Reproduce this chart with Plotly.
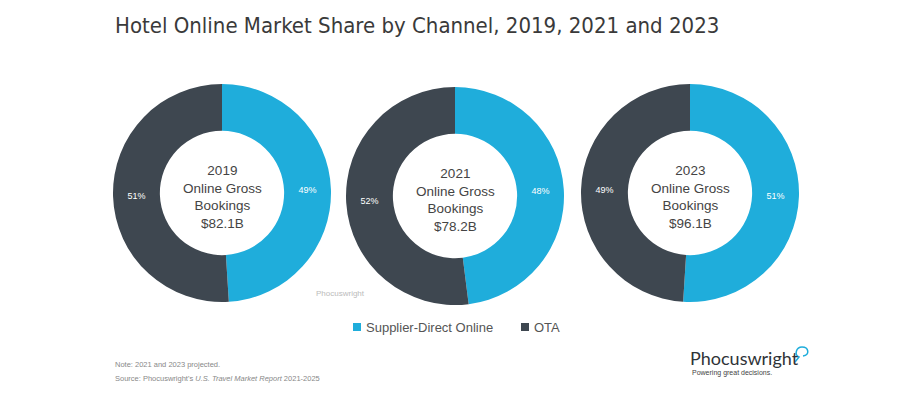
import plotly.graph_objects as go

years = ["2019", "2021", "2023"]
channels = ["Supplier-Direct Online", "OTA"]
supplier_share = [49, 48, 51]
ota_share = [51, 52, 49]
gross_bookings = ["$82.1B", "$78.2B", "$96.1B"]

CYAN = "#1FADDB"
DARK = "#3E4750"
COLORS = [CYAN, DARK]
W, H = 900, 400

centers = [(222, 193), (455, 196), (690, 193)]
R = 109

def px(x):
    return x / W

def py(y):
    return 1 - y / H

fig = go.Figure()
for i, yr in enumerate(years):
    cx, cy = centers[i]
    fig.add_trace(go.Pie(
        labels=channels,
        values=[supplier_share[i], ota_share[i]],
        hole=0.57,
        sort=False,
        direction="clockwise",
        rotation=0,
        marker=dict(colors=COLORS, line=dict(width=0)),
        texttemplate="%{value}%",
        textposition="inside",
        insidetextorientation="horizontal",
        textfont=dict(color="white", size=9, family="Liberation Sans"),
        domain=dict(x=[px(cx - R), px(cx + R)], y=[py(cy + R), py(cy - R)]),
        showlegend=False,
        hoverinfo="label+percent",
    ))
    fig.add_annotation(
        x=px(cx), y=py(cy + 4), xref="paper", yref="paper", xanchor="center", yanchor="middle",
        text=f"{yr}<br>Online Gross<br>Bookings<br>{gross_bookings[i]}",
        showarrow=False, align="center",
        font=dict(size=13.5, color="#444", family="Liberation Sans"),
    )

# custom legend
legend_pos = [353, 521]
for name, col, lx in zip(channels, COLORS, legend_pos):
    fig.add_shape(type="rect", xref="paper", yref="paper",
                  x0=px(lx), x1=px(lx + 8), y0=py(331), y1=py(323),
                  fillcolor=col, line=dict(width=0))
    fig.add_annotation(x=px(lx + 11), y=py(327), xref="paper", yref="paper", xanchor="left", yanchor="middle",
                       text=name, showarrow=False,
                       font=dict(size=13, color="#555", family="Liberation Sans"))

# title
fig.add_annotation(x=px(113), y=py(25), xref="paper", yref="paper", xanchor="left", yanchor="middle",
                   text="Hotel Online Market Share by Channel, 2019, 2021 and 2023", showarrow=False,
                   font=dict(size=22, color="#3a3a3a", family="Liberation Sans Narrow, DejaVu Sans Condensed, Liberation Sans"))
# watermark
fig.add_annotation(x=px(340), y=py(293), xref="paper", yref="paper", xanchor="center", yanchor="middle",
                   text="Phocuswright", showarrow=False, font=dict(size=8, color="#bbb", family="Liberation Sans"))
# notes
fig.add_annotation(x=px(113), y=py(364), xref="paper", yref="paper", xanchor="left", yanchor="middle",
                   text="Note: 2021 and 2023 projected.", showarrow=False,
                   font=dict(size=7.5, color="#888", family="Liberation Sans"))
fig.add_annotation(x=px(113), y=py(378), xref="paper", yref="paper", xanchor="left", yanchor="middle",
                   text="Source: Phocuswright's <i>U.S. Travel Market Report</i> 2021-2025", showarrow=False,
                   font=dict(size=7.5, color="#888", family="Liberation Sans"))
# logo
fig.add_annotation(x=px(688), y=py(358), xref="paper", yref="paper", xanchor="left", yanchor="middle",
                   text="Phocuswright", showarrow=False,
                   font=dict(size=18, color="#2f3338", family="Lato, Liberation Sans"))
fig.add_annotation(x=px(690), y=py(373), xref="paper", yref="paper", xanchor="left", yanchor="middle",
                   text="Powering great decisions.", showarrow=False,
                   font=dict(size=7, color="#444", family="Liberation Sans"))
fig.add_shape(type="path", xref="paper", yref="paper",
              path=(f"M {px(795)} {py(362)} L {px(799)} {py(357)} "
                    f"C {px(794)} {py(355)} {px(796)} {py(347)} {px(802)} {py(347)} "
                    f"C {px(809)} {py(347)} {px(810)} {py(355)} {px(803)} {py(356)}"),
              line=dict(color=CYAN, width=1.5))

fig.update_layout(
    width=W, height=H,
    margin=dict(l=0, r=0, t=0, b=0),
    paper_bgcolor="white", plot_bgcolor="white",
    showlegend=False,
)

fig.write_html("out.html")
